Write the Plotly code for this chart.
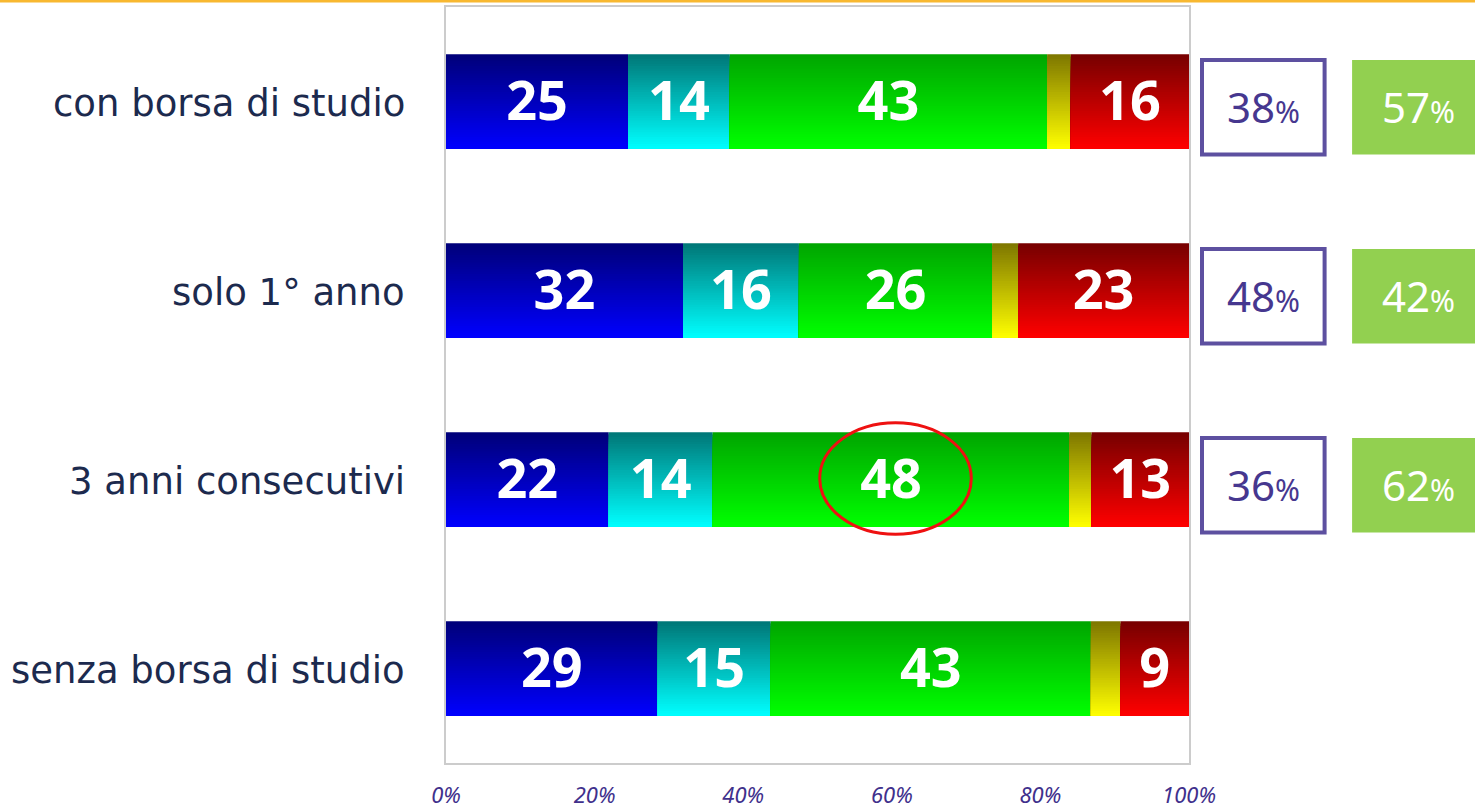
import numpy as np
import plotly.graph_objects as go

categories = ["con borsa di studio", "solo 1° anno", "3 anni consecutivi", "senza borsa di studio"]
seg_names = ["blu", "azzurro", "verde", "giallo", "rosso"]
blue = [24.5, 31.9, 21.9, 28.5]
cyan = [13.7, 15.6, 14.0, 15.2]
green = [42.7, 26.0, 48.0, 43.1]
yellow = [3.2, 3.5, 3.0, 4.0]
red = [15.9, 23.0, 13.1, 9.2]
blue_lbl = [25, 32, 22, 29]
cyan_lbl = [14, 16, 14, 15]
green_lbl = [43, 26, 48, 43]
red_lbl = [16, 23, 13, 9]
purple_box = [38, 48, 36]
green_box = [57, 42, 62]
tick_vals = [0, 20, 40, 60, 80, 100]
tick_text = ["0%", "20%", "40%", "60%", "80%", "100%"]

series = [blue, cyan, green, yellow, red]
labels = [blue_lbl, cyan_lbl, green_lbl, None, red_lbl]
top_cols = [(0, 0, 120), (0, 118, 118), (0, 165, 0), (125, 118, 0), (118, 0, 0)]
bot_cols = [(0, 0, 255), (0, 255, 255), (0, 255, 0), (255, 255, 0), (255, 0, 0)]

rows = np.arange(len(categories))
vals = np.array(series)
bases = np.vstack([np.zeros(len(categories)), np.cumsum(vals, axis=0)[:-1]])

fig = go.Figure()
K = 40
half = 0.25
h = 2 * half / K
for s in range(len(series)):
    for k in range(K):
        t = (k + 0.5) / K
        c = tuple(int(round(a + (b - a) * t)) for a, b in zip(top_cols[s], bot_cols[s]))
        top_k = rows - half + k * h
        bottom = rows + half
        fig.add_trace(go.Bar(
            orientation="h", y=(top_k + bottom) / 2, x=vals[s], base=bases[s],
            width=list(bottom - top_k), marker=dict(color="rgb(%d,%d,%d)" % c, line=dict(width=0)),
            hoverinfo="skip", showlegend=False))

for s in range(len(series)):
    if labels[s] is None:
        continue
    fig.add_trace(go.Scatter(
        x=bases[s] + vals[s] / 2, y=rows + 0.025, mode="text", text=[str(v) for v in labels[s]],
        textposition="middle center",
        textfont=dict(family="Noto Sans", size=54, color="white", weight="bold"),
        hoverinfo="skip", showlegend=False))

# category labels
for i, cat in enumerate(categories):
    fig.add_annotation(x=-0.052, y=i + 0.01, xref="paper", yref="y", text=cat, showarrow=False,
                       xanchor="right", yanchor="middle",
                       font=dict(family="DejaVu Sans", size=37, color="#1c2a4e"))

# side boxes
for i in range(len(purple_box)):
    y0, y1 = i - 0.22, i + 0.28
    fig.add_shape(type="rect", xref="paper", yref="y", x0=1.0175, x1=1.1825, y0=y0, y1=y1,
                  line=dict(color="#5d50a0", width=4), fillcolor="white")
    fig.add_shape(type="rect", xref="paper", yref="y", x0=1.2195, x1=1.39, y0=y0, y1=y1,
                  line=dict(width=0), fillcolor="#92d050")
    fig.add_annotation(x=1.1003, y=i + 0.025, xref="paper", yref="y", showarrow=False,
                       xanchor="center", yanchor="middle",
                       text="%d<span style='font-size:30px'>%%</span>" % purple_box[i],
                       font=dict(family="Liberation Sans Narrow, Noto Sans", size=42, color="#46378f"))
    fig.add_annotation(x=1.3085, y=i + 0.025, xref="paper", yref="y", showarrow=False,
                       xanchor="center", yanchor="middle",
                       text="%d<span style='font-size:30px'>%%</span>" % green_box[i],
                       font=dict(family="Liberation Sans Narrow, Noto Sans", size=42, color="white"))

# red ellipse around the highlighted value
hl = 2
cx = bases[2][hl] + vals[2][hl] / 2 + 0.6
fig.add_shape(type="circle", xref="x", yref="y", x0=cx - 10.2, x1=cx + 10.2,
              y0=hl - 0.3, y1=hl + 0.29, line=dict(color="#ee1111", width=3))

# top orange line
fig.add_shape(type="line", xref="paper", yref="paper", x0=-0.61, x1=1.4, y0=1.0075, y1=1.0075,
              line=dict(color="#f8b830", width=2.5))

fig.update_layout(
    width=1475, height=808, barmode="overlay",
    margin=dict(l=446, r=286, t=7, b=45, autoexpand=False),
    plot_bgcolor="white", paper_bgcolor="white",
    xaxis=dict(range=[0, 100], tickvals=tick_vals, ticktext=tick_text, showgrid=False, zeroline=False,
               showline=True, mirror=True, linecolor="#cccccc", linewidth=1.5,
               ticks="", ticklabelstandoff=12,
               tickfont=dict(family="Liberation Sans Narrow, Noto Sans", size=22, color="#40308c", style="italic")),
    yaxis=dict(range=[3.5, -0.5], showticklabels=False, showgrid=False, zeroline=False,
               showline=True, mirror=True, linecolor="#cccccc", linewidth=1.5, ticks=""),
)

fig.write_html("out.html", config={"displayModeBar": False},
               post_script="document.body.style.margin='0px';document.body.style.overflow='hidden';")
